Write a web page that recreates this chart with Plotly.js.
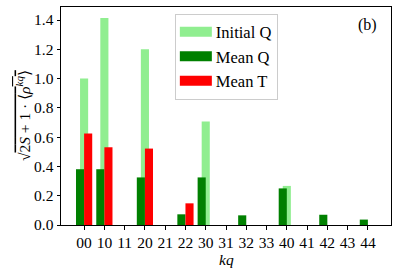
<!DOCTYPE html>
<html>
<head>
<meta charset="utf-8">
<script src="https://cdn.plot.ly/plotly-3.0.1.min.js"></script>
<style>html,body{margin:0;padding:0;background:#fff;}#chart{width:398px;height:273px;}</style>
</head>
<body>
<div id="chart"></div>
<script>
const categories = ['00','10','11','20','21','22','30','31','32','33','40','41','42','43','44'];
const initialQ = [1.0, 1.414, 0, 1.2, 0, 0, 0.707, 0, 0, 0, 0.267, 0, 0, 0, 0];
const meanQ    = [0.381, 0.381, 0, 0.325, 0, 0.073, 0.325, 0, 0.066, 0, 0.25, 0, 0.07, 0, 0.037];
const meanT    = [0.625, 0.531, 0, 0.522, 0, 0.148, 0, 0, 0, 0, 0, 0, 0, 0, 0];
const seriesNames = ['Initial Q', 'Mean Q', 'Mean T'];

const FONT = 'Liberation Serif, Times New Roman, serif';
const xs = categories.map((_, i) => i);

const traces = [
  {type:'bar', name:seriesNames[0], x:xs, y:initialQ, width:0.4, offset:-0.2, marker:{color:'#90ee90'}},
  {type:'bar', name:seriesNames[1], x:xs, y:meanQ, width:0.4, offset:-0.4, marker:{color:'#008000'}},
  {type:'bar', name:seriesNames[2], x:xs, y:meanT, width:0.4, offset:0.0, marker:{color:'#ff0000'}}
];

const layout = {
  width:398, height:273,
  margin:{l:61, r:7, t:7, b:48},
  paper_bgcolor:'#fff', plot_bgcolor:'#fff',
  barmode:'overlay',
  font:{family:FONT, size:15.5, color:'#000'},
  showlegend:true,
  legend:{x:0.345, y:0.97, xanchor:'left', yanchor:'top', bgcolor:'rgba(255,255,255,0.8)',
          bordercolor:'#cccccc', borderwidth:1, font:{family:FONT, size:16.5, color:'#000'},
          traceorder:'normal'},
  xaxis:{range:[-1.14, 15.14], tickmode:'array', tickvals:xs, ticktext:categories,
         showgrid:false, zeroline:false, showline:true, mirror:true, linecolor:'#000', linewidth:1,
         ticks:'outside', ticklen:3.5, tickcolor:'#000', tickwidth:1,
         tickfont:{family:FONT, size:15.5, color:'#000'}},
  yaxis:{range:[0, 1.489], tickmode:'linear', tick0:0, dtick:0.2, tickformat:'.1f',
         showgrid:false, zeroline:false, showline:true, mirror:true, linecolor:'#000', linewidth:1,
         ticks:'outside', ticklen:3.5, tickcolor:'#000', tickwidth:1,
         tickfont:{family:FONT, size:15.5, color:'#000'}},
  annotations:[
    {xref:'paper', yref:'paper', x:0.93, y:0.917, text:'(b)', showarrow:false,
     font:{family:FONT, size:16, color:'#000'}, xanchor:'center', yanchor:'middle'},
    {xref:'paper', yref:'paper', x:0.5, y:-0.157, text:'<i>kq</i>', showarrow:false, borderpad:0,
     font:{family:FONT, size:15.5, color:'#000'}, xanchor:'center', yanchor:'middle'},
    {xref:'paper', yref:'paper', x:-0.115, y:0.5, textangle:-90, showarrow:false,
     text:'√<span style="text-decoration:overline">2<i>S</i> + 1 · ⟨<i>ρ</i><sup><i>kq</i></sup>⟩</span>',
     font:{family:FONT, size:15.5, color:'#000'}, xanchor:'center', yanchor:'middle'}
  ]
};

Plotly.newPlot('chart', traces, layout, {staticPlot:true, displayModeBar:false}).then(function(gd){
  gd.querySelectorAll('.legend .legendpoints path').forEach(function(p){
    p.setAttribute('d','M16,5H-16V-5H16Z');
  });
});
</script>
</body>
</html>
